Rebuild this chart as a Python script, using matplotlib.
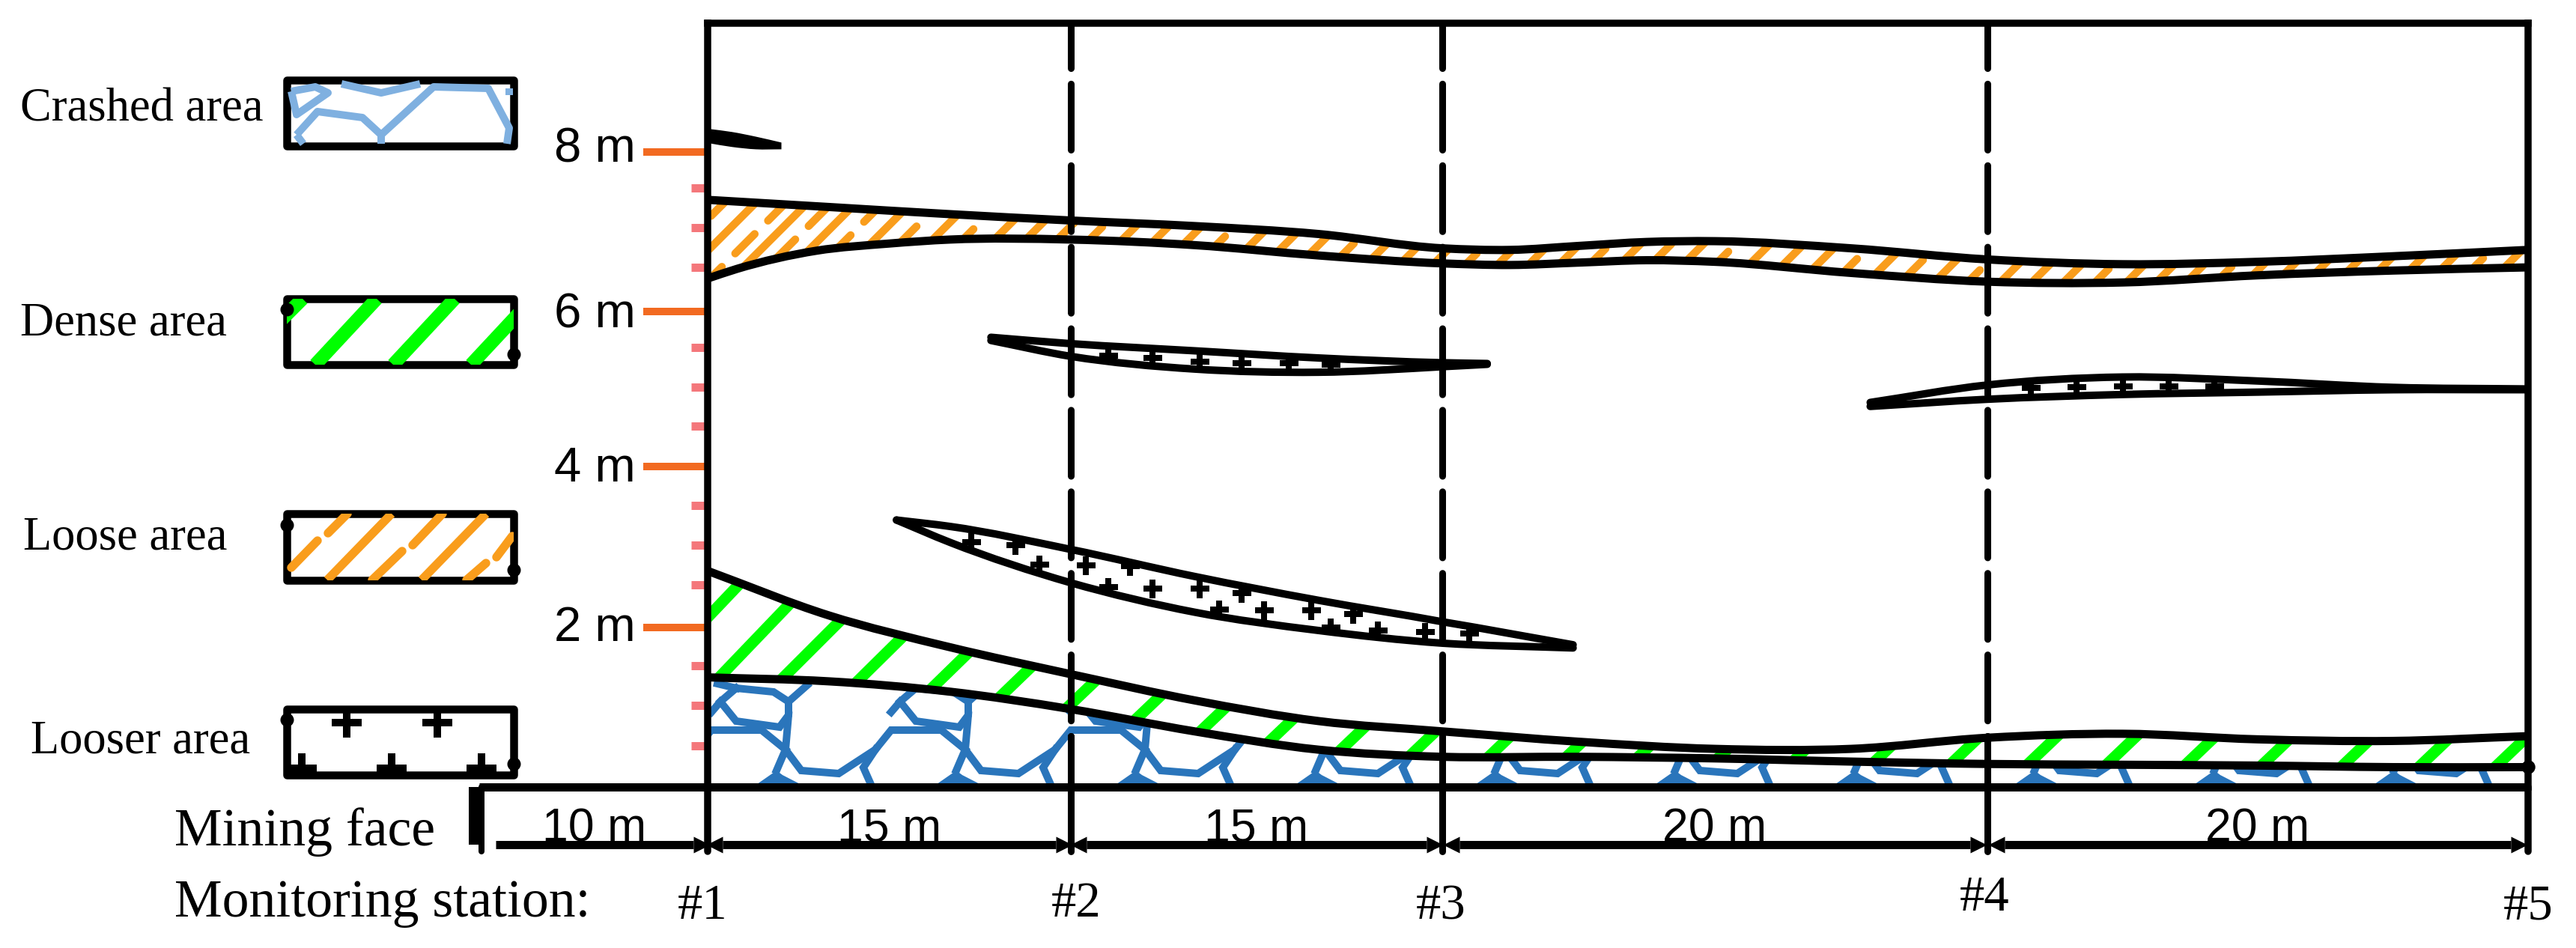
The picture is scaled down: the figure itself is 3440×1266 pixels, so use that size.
import numpy as np
import matplotlib
matplotlib.use("Agg")
import matplotlib.pyplot as plt
from matplotlib.path import Path
from matplotlib.patches import PathPatch, Rectangle

# station positions along the face [m] and the picture column they sit on
station_m = [0, 15, 30, 50, 70]
station_labels = ["#1", "#2", "#3", "#4", "#5"]
span_edges = [-10, 0, 15, 30, 50, 70]
span_labels = ["10 m", "15 m", "15 m", "20 m", "20 m"]

scale_m = [-40, -10, 0, 15, 30, 50, 70, 100]
scale_px = [-263, 643, 945, 1430, 1926, 2654, 3376, 4456]

major_ticks = [2.01, 4.03, 5.98, 7.99]
major_labels = ["2 m", "4 m", "6 m", "8 m"]
minor_ticks = [0.52, 1.03, 1.53, 2.54, 3.04, 3.54, 4.54, 5.03, 5.53, 6.54, 7.04, 7.54]

grid_x = [0, 5, 10, 15, 20, 25, 30, 35, 40, 45, 50, 55, 60, 65, 70]

# loose zone
loose_top_x = [0, 5, 10, 15, 20, 25, 30, 32.5, 35, 37.5, 40, 45, 50, 55, 60, 65, 70]
loose_top_y = [7.39, 7.30, 7.21, 7.13, 7.06, 6.96, 6.78, 6.76, 6.81, 6.86, 6.87, 6.78, 6.64, 6.58, 6.61, 6.68, 6.76]
loose_bot_x = [0, 1.2, 4.5, 7.5, 10, 15, 20, 25, 30, 32.5, 35, 37.5, 40, 45, 50, 55, 60, 65, 70]
loose_bot_y = [6.40, 6.52, 6.75, 6.84, 6.89, 6.89, 6.82, 6.69, 6.59, 6.57, 6.60, 6.63, 6.61, 6.47, 6.36, 6.35, 6.44, 6.50, 6.54]

# dense zone
dense_top_y = [2.72, 2.16, 1.76, 1.42, 1.09, 0.83, 0.70, 0.57, 0.48, 0.48, 0.62, 0.67, 0.60, 0.58, 0.64]
dense_bot_y = [1.38, 1.33, 1.20, 0.98, 0.70, 0.47, 0.38, 0.38, 0.36, 0.32, 0.29, 0.28, 0.27, 0.25, 0.25]

# looser lenses
lens1_x = [7.8, 10, 15, 20, 25, 30, 34.8]
lens1_top = [3.36, 3.28, 2.99, 2.65, 2.35, 2.08, 1.79]
lens1_bot = [3.36, 3.08, 2.57, 2.20, 1.97, 1.81, 1.75]
lens1_mark_x = [10.9, 12.7, 13.7, 15.6, 17.4, 16.5, 18.3, 20.2, 21.9, 21.0, 22.8, 24.7, 26.4, 25.5, 27.4, 29.3, 31.0]
lens1_mark_y = [3.08, 3.04, 2.80, 2.79, 2.78, 2.52, 2.50, 2.50, 2.44, 2.23, 2.22, 2.22, 2.18, 2.01, 1.97, 1.95, 1.93]

lens2_x = [11.7, 15, 20, 25, 30, 31.65]
lens2_top = [5.66, 5.58, 5.49, 5.40, 5.34, 5.33]
lens2_bot = [5.62, 5.42, 5.26, 5.22, 5.29, 5.32]
lens2_mark_x = [16.5, 18.3, 20.2, 21.9, 23.8, 25.5]
lens2_mark_y = [5.43, 5.40, 5.35, 5.33, 5.33, 5.32]

lens3_x = [45.7, 50, 55, 60, 65, 70]
lens3_top = [4.84, 5.06, 5.16, 5.11, 5.03, 5.01]
lens3_bot = [4.79, 4.88, 4.94, 4.97, 5.00, 5.00]
lens3_mark_x = [51.6, 53.3, 55.0, 56.7, 58.4]
lens3_mark_y = [5.02, 5.03, 5.04, 5.04, 5.04]

cap_x = [0, 1, 2, 3]
cap_top = [8.27, 8.23, 8.17, 8.10]
cap_bot = [8.12, 8.07, 8.04, 8.04]

legend_labels = ["Crashed area", "Dense area", "Loose area", "Looser area"]

BLUE = "#2A75BB"
LIGHT_BLUE = "#7FB0E0"
GREEN = "#00FF00"
ORANGE = "#F99D1C"
TICK_ORANGE = "#F26A21"
TICK_PINK = "#F4777B"
SERIF = "Liberation Serif"
SANS = "Liberation Sans"


def pt(pixels):
    return pixels * 0.72


def forward(m):
    m = np.asarray(m, dtype=float)
    return np.interp(m.ravel(), scale_m, scale_px).reshape(m.shape)


def inverse(p):
    p = np.asarray(p, dtype=float)
    return np.interp(p.ravel(), scale_px, scale_m).reshape(p.shape)


def curve_verts(x, y):
    x = np.asarray(x, dtype=float)
    y = np.asarray(y, dtype=float)
    slope = np.gradient(y, x)
    verts = [(x[0], y[0])]
    for i in range(len(x) - 1):
        h = (x[i + 1] - x[i]) / 3
        verts.append((x[i] + h, y[i] + slope[i] * h))
        verts.append((x[i + 1] - h, y[i + 1] - slope[i + 1] * h))
        verts.append((x[i + 1], y[i + 1]))
    return verts


def open_path(x, y):
    verts = curve_verts(x, y)
    return Path(verts, [Path.MOVETO] + [Path.CURVE4] * (len(verts) - 1))


def closed_path(x1, y1, x2, y2):
    up = curve_verts(x1, y1)
    low = curve_verts(x2, y2)[::-1]
    verts = up + low + [up[0]]
    codes = [Path.MOVETO] + [Path.CURVE4] * (len(up) - 1) + [Path.LINETO] + [Path.CURVE4] * (len(low) - 1) + [Path.CLOSEPOLY]
    return Path(verts, codes)


fig = plt.figure(figsize=(34.4, 12.66), dpi=100)

# overlay in picture pixels: legend, texts, hatching
over = fig.add_axes([0, 0, 1, 1])
over.set_xlim(0, 3440)
over.set_ylim(1266, 0)
over.axis("off")
over.set_zorder(0)

# the chart itself: metres along the face, metres of height
ax = fig.add_axes([945 / 3440, (1266 - 1051) / 1266, (3376 - 945) / 3440, 1020 / 1266])
ax.set_xscale("function", functions=(forward, inverse))
ax.set_xlim(0, 70)
ax.set_ylim(0, 9.613)
ax.set_zorder(1)
ax.patch.set_visible(False)
for side in ax.spines:
    ax.spines[side].set_linewidth(pt(9.5))
ax.spines["bottom"].set_visible(False)

ax.set_xticks([])
ax.set_xticks([], minor=True)
ax.set_yticks(major_ticks)
ax.set_yticks(minor_ticks, minor=True)
ax.set_yticklabels([])
ax.tick_params(axis="y", which="major", length=pt(86), width=pt(10), color=TICK_ORANGE)
ax.tick_params(axis="y", which="minor", length=pt(22), width=pt(11), color=TICK_PINK)

label_drop = [-18, -20, -21, -13]
for y, lab, drop in zip(major_ticks, major_labels, label_drop):
    ax.annotate(lab, (0, y), xytext=(-96, drop), textcoords="offset pixels", ha="right", va="baseline",
                family=SANS, fontsize=47, annotation_clip=False)


def curve_px(x, y):
    pts = ax.transData.transform(np.column_stack([x, y]))
    return pts[:, 0], 1266 - pts[:, 1]


# regions used to clip the fill patterns
loose_clip = PathPatch(closed_path(loose_top_x, loose_top_y, loose_bot_x, loose_bot_y), transform=ax.transData)
dense_clip = PathPatch(closed_path(grid_x, dense_top_y, grid_x, dense_bot_y), transform=ax.transData)
crash_clip = PathPatch(closed_path(grid_x, dense_bot_y, [0, 70], [0, 0]), transform=ax.transData)

# crushed rock pattern, one tile that repeats every 240 px
tile_lines = [
    [(983, 919), (1033, 924), (1053, 937), (1053, 955), (1041, 971), (983, 963), (962, 937), (983, 919)],
    [(1053, 937), (1078, 915)],
    [(983, 919), (958, 913)],
    [(962, 937), (950, 951)],
    [(1053, 955), (1049, 1001), (1037, 1029)],
    [(1049, 1001), (1070, 1029), (1120, 1033), (1169, 1001), (1190, 975), (1257, 975), (1289, 1001)],
    [(1169, 1001), (1153, 1025), (1165, 1052)],
]
tile_wedge = [(1004, 1052), (1037, 1029), (1045, 1035), (1078, 1052)]
for k in range(-1, 11):
    for seg in tile_lines:
        seg = np.array(seg, dtype=float)
        ln, = over.plot(seg[:, 0] + k * 240, seg[:, 1], color=BLUE, lw=pt(10), solid_joinstyle="miter")
        ln.set_clip_path(crash_clip)
    wedge = np.array(tile_wedge, dtype=float)
    poly = over.fill(wedge[:, 0] + k * 240, wedge[:, 1], color=BLUE, lw=0)[0]
    poly.set_clip_path(crash_clip)

# green stripes
dense_px_x, dense_px_y = curve_px(grid_x, dense_bot_y)
green_feet = [859, 950, 1033, 1132, 1232, 1323, 1414, 1505, 1592, 1684, 1779, 1874, 1978, 2082, 2177,
              2284, 2386, 2493, 2596, 2698, 2803, 2908, 3010, 3117, 3220, 3322, 3425]
for foot in green_feet:
    foot = foot + 10
    s = np.interp(foot, [945, 1033, 1430, 2600], [0.95, 1.0, 1.05, 1.05])
    y0 = np.interp(foot, dense_px_x, dense_px_y)
    ln, = over.plot([foot - 30 * s, foot + 190 * s], [y0 + 30, y0 - 190], color=GREEN, lw=pt(15), solid_capstyle="butt")
    ln.set_clip_path(dense_clip)

# orange stripes, solid and broken in turn
loose_px_x, loose_px_y = curve_px(loose_bot_x, loose_bot_y)
for k, foot in enumerate(np.arange(866, 3440, 42)):
    y0 = np.interp(foot, loose_px_x, loose_px_y)
    if k % 2 == 0:
        # broken line, start shifted a little so the gaps do not line up along the band
        start = [4, 12, -2, 8][(k // 2) % 4]
        ln, = over.plot([foot - start, foot + 130], [y0 + start, y0 - 130], color=ORANGE, lw=pt(10.5),
                        ls=(0, (3.5, 2.4)), dash_capstyle="round")
    else:
        ln, = over.plot([foot - 20, foot + 110], [y0 + 20, y0 - 110], color=ORANGE, lw=pt(10.5), solid_capstyle="butt")
    ln.set_clip_path(loose_clip)

# plus signs inside the lenses
for x, y, t, b, mx, my in [(lens1_x, lens1_x, lens1_top, lens1_bot, lens1_mark_x, lens1_mark_y),
                           (lens2_x, lens2_x, lens2_top, lens2_bot, lens2_mark_x, lens2_mark_y),
                           (lens3_x, lens3_x, lens3_top, lens3_bot, lens3_mark_x, lens3_mark_y)]:
    clip = PathPatch(closed_path(x, t, y, b), transform=ax.transData)
    ln, = ax.plot(mx, my, "+", color="k", ms=pt(25), mew=pt(8))
    ln.set_clip_path(clip)
    for yy in (t, b):
        ax.add_patch(PathPatch(open_path(x, yy), fill=False, ec="k", lw=pt(10), capstyle="round"))

# zone boundaries
for x, y in [(loose_top_x, loose_top_y), (loose_bot_x, loose_bot_y), (grid_x, dense_top_y), (grid_x, dense_bot_y)]:
    ax.add_patch(PathPatch(open_path(x, y), fill=False, ec="k", lw=pt(11), capstyle="butt"))
ax.add_patch(PathPatch(closed_path(cap_x, cap_top, cap_x, cap_bot), fc="k", ec="k", lw=pt(3)))
ax.plot([70], [dense_bot_y[-1]], "o", color="k", ms=pt(17), clip_on=False)

# station lines
for m in station_m:
    if m in (0, 70):
        ax.plot([m, m], [0, -0.81], color="k", lw=pt(9.5), clip_on=False, solid_capstyle="round")
    else:
        ax.plot([m, m], [9.613, 0.64], color="k", lw=pt(9), ls=(3.125, (9.8, 2.3)), dash_capstyle="round", clip_on=False)
        ax.plot([m, m], [0.64, -0.81], color="k", lw=pt(9), clip_on=False, solid_capstyle="round")

# working face and dimension line
ax.plot([-10.1, 70], [0, 0], color="k", lw=pt(11), clip_on=False, solid_capstyle="butt")
ax.plot([-10.25, -10.25], [0, -0.73], color="k", lw=pt(18), clip_on=False, solid_capstyle="butt")
ax.plot([-10, -10], [0, -0.81], color="k", lw=pt(8), clip_on=False, solid_capstyle="round")
tip_r = [(0, -0.5), (1, 0), (0, 0.5)]
tip_l = [(0, -0.5), (-1, 0), (0, 0.5)]
for left, right, lab in zip(span_edges[:-1], span_edges[1:], span_labels):
    gap = 20 / 32.0
    ax.plot([left + gap, right - gap], [-0.726, -0.726], color="k", lw=pt(11), clip_on=False, solid_capstyle="butt")
    if left > -10:
        ax.plot([left + gap], [-0.726], marker=tip_l, color="k", ms=pt(44), mew=0, clip_on=False)
    ax.plot([right - gap], [-0.726], marker=tip_r, color="k", ms=pt(44), mew=0, clip_on=False)
    ax.text((left + right) / 2, -0.68, lab, ha="center", va="baseline", family=SANS, fontsize=45, clip_on=False)

# left hand texts and station names
over.text(233, 1129, "Mining face", family=SERIF, fontsize=51.6, va="baseline")
over.text(233, 1224, "Monitoring station:", family=SERIF, fontsize=51.6, va="baseline")
for lab, cx, base in zip(station_labels, [938, 1437, 1924, 2650, 3376], [1227, 1224, 1227, 1216, 1228]):
    over.text(cx, base, lab, family=SERIF, fontsize=48, ha="center", va="baseline")

for lab, lx, base in zip(legend_labels, [27, 27, 31, 41], [162, 448, 734, 1005]):
    over.text(lx, base, lab, family=SERIF, fontsize=45, va="baseline")

# legend swatches
boxes = [(107, 195), (399, 487), (686, 774.5), (947, 1035)]
box_clips = []
for top, bot in boxes:
    r = Rectangle((383, top), 303, bot - top, transform=over.transData)
    box_clips.append(r)


def swatch_line(pts, color, width, clip, cap="butt"):
    pts = np.array(pts, dtype=float)
    ln, = over.plot(pts[:, 0], pts[:, 1], color=color, lw=pt(width), solid_capstyle=cap, solid_joinstyle="round")
    ln.set_clip_path(clip)


for pts in [[(389, 122), (421, 116), (438, 124), (396, 153), (389, 122)],
            [(396, 180), (424, 149), (484, 157), (509, 180), (509, 192)],
            [(509, 180), (579, 116), (652, 118), (680, 171), (677, 192)],
            [(456, 112), (509, 124), (561, 112)],
            [(396, 180), (405, 192)],
            [(680, 118), (680, 127)]]:
    swatch_line(pts, LIGHT_BLUE, 10, box_clips[0])

for pts in [[(421, 487), (503, 399)], [(525, 487), (607, 399)], [(629, 487), (711, 399)], [(360, 443), (404, 399)]]:
    swatch_line(pts, GREEN, 18, box_clips[1])

for pts in [[(437, 774.5), (523, 686)], [(563, 774.5), (649, 686)]]:
    swatch_line(pts, ORANGE, 11.5, box_clips[2])
for pts in [[(389, 758), (424, 722)], [(438, 712), (464, 686)], [(551, 728), (591, 686)],
            [(497, 774.5), (537, 736)], [(623, 774.5), (649, 752)], [(663, 744), (684, 716)]]:
    swatch_line(pts, ORANGE, 11.5, box_clips[2], cap="round")

ln, = over.plot([463, 584, 403, 523, 643], [965, 965, 1026, 1026, 1026], "+", color="k", ms=pt(40), mew=pt(10))
ln.set_clip_path(box_clips[3])

for (top, bot), dots in zip(boxes, [None, (413, 473), (701, 761), (961, 1020)]):
    over.add_patch(Rectangle((383, top), 303, bot - top, fill=False, ec="k", lw=pt(10.5), joinstyle="round"))
    if dots:
        over.plot([383, 686], dots, "o", color="k", ms=pt(18), mew=0)

fig.savefig("out.png", dpi=100)
